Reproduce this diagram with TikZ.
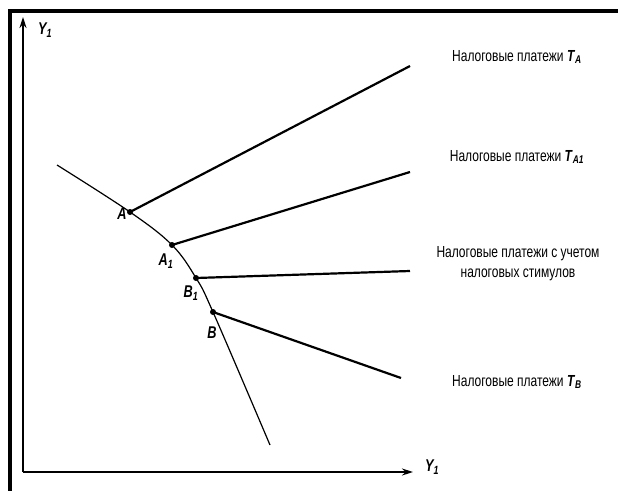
\documentclass[tikz,border=0pt]{standalone}
\usepackage{fontspec}
\setmainfont{Liberation Sans}[FakeStretch=0.75]
\usetikzlibrary{arrows.meta}
\begin{document}
\begin{tikzpicture}[x=1pt,y=-1pt,
  frame/.style={line width=4pt,line cap=rect},
  axis/.style={line width=1.6pt,-{Stealth[length=11pt,width=7pt]}},
  curve/.style={line width=1.2pt},
  ray/.style={line width=2.2pt},
  dot/.style={circle,fill=black,inner sep=0pt,minimum size=6pt},
  lbl/.style={font=\fontsize{16}{18}\selectfont,align=center,inner sep=0pt},
  pt/.style={font=\fontsize{17}{19}\selectfont\bfseries\itshape,inner sep=0pt}]
\useasboundingbox (0,0) rectangle (618,490);
% frame
\draw[frame] (10,490) -- (10,11) -- (618,11);
% axes
\coordinate (O) at (23,472);
\coordinate (Ytop) at (23,17);
\coordinate (Xend) at (413,472);
\draw[axis] (O) -- (Ytop);
\draw[axis] (O) -- (Xend);
\node[pt,anchor=west] (ylab) at (38,30) {Y\textsubscript{1}};
\node[pt,anchor=west] (xlab) at (425,467) {Y\textsubscript{1}};
% curve
\coordinate (C0) at (57,165);
\coordinate (A) at (130,212);
\coordinate (A1) at (172,245);
\coordinate (B1) at (196,278);
\coordinate (B) at (213,312);
\coordinate (C5) at (270,445);
\draw[curve] plot[smooth,tension=0.6] coordinates {(C0) (A) (A1) (B1) (B) (C5)};
% rays
\coordinate (RA) at (410,66);
\coordinate (RA1) at (410,172);
\coordinate (RB1) at (410,271);
\coordinate (RB) at (401,378);
\draw[ray] (A) -- (RA);
\draw[ray] (A1) -- (RA1);
\draw[ray] (B1) -- (RB1);
\draw[ray] (B) -- (RB);
\foreach \p in {A,A1,B1,B} \node[dot] at (\p) {};
% point labels
\node[pt] (lA) at (122,214) {A};
\node[pt] (lA1) at (166,261) {A\textsubscript{1}};
\node[pt] (lB1) at (191,293) {B\textsubscript{1}};
\node[pt] (lB) at (212,333) {B};
% right labels
\node[lbl] (tA) at (517,57) {Налоговые платежи \textbf{\textit{T}}\textsubscript{\textbf{\textit{A}}}};
\node[lbl] (tA1) at (517,157) {Налоговые платежи \textbf{\textit{T}}\textsubscript{\textbf{\textit{A1}}}};
\node[lbl] (tS) at (518,264) {Налоговые платежи с учетом\\[2pt]налоговых стимулов};
\node[lbl] (tB) at (517,382) {Налоговые платежи \textbf{\textit{T}}\textsubscript{\textbf{\textit{B}}}};
\end{tikzpicture}
\end{document}
